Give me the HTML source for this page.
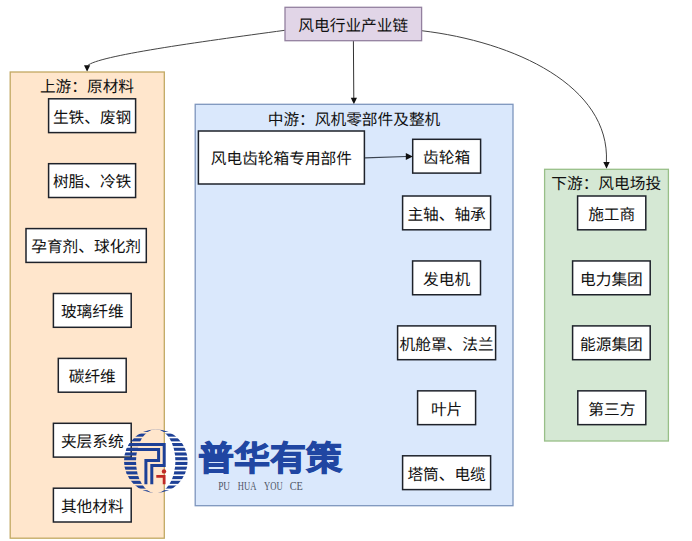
<!DOCTYPE html>
<html lang="zh-CN"><head><meta charset="utf-8">
<style>
html,body{margin:0;padding:0;background:#fff;}
body{width:692px;height:541px;overflow:hidden;font-family:"Liberation Sans",sans-serif;}
svg{display:block;position:absolute;left:0;top:0;}
.lt{position:absolute;left:198px;top:437px;font-size:36px;line-height:1;font-weight:900;color:#2046a2;white-space:nowrap;-webkit-text-stroke:1.2px #2046a2;transform-origin:0 0;transform:translateY(5.5px) scaleY(0.915);}
.t{position:absolute;white-space:nowrap;text-rendering:geometricPrecision;line-height:1;transform:translate(-50%,-50%) translateY(0.15em) scaleY(1);transform-origin:50% 50%;}
text{font-family:"Liberation Sans",sans-serif;}
</style></head><body>
<svg width="692" height="541" viewBox="0 0 692 541">
<path d="M284.8,30.3 C197.1,42.2 97.9,55.8 87.6,65.6" fill="none" stroke="#444" stroke-width="1"/>
<path d="M87.1,71.8 L84,65.2 L90.2,65.2 Z" fill="#111"/>
<path d="M353.4,41 L353.8,98.5" fill="none" stroke="#333" stroke-width="1"/>
<path d="M353.9,104.2 L350.8,97.8 L357,97.8 Z" fill="#111"/>
<path d="M421.5,30.7 C514.8,41.6 610.1,86 606.4,162" fill="none" stroke="#444" stroke-width="1"/>
<path d="M606.5,168.8 L603.3,162 L609.7,162 Z" fill="#111"/>
<rect x="285" y="7.3" width="136.60" height="33.40" fill="#e1d5e7" stroke="#93809f" stroke-width="1.3"/>
<rect x="10.2" y="72" width="154.10" height="466.20" fill="#ffe6cc" stroke="#c2a862" stroke-width="1.3"/>
<rect x="195.2" y="104.3" width="317.80" height="401.40" fill="#dae8fc" stroke="#7d95bd" stroke-width="1.3"/>
<rect x="544.6" y="169.3" width="123.80" height="271.70" fill="#d5e8d4" stroke="#98bf88" stroke-width="1.3"/>
<rect x="48.6" y="98.8" width="87.00" height="33.80" fill="#ffffff" stroke="#1e222a" stroke-width="1.5"/>
<rect x="48.6" y="163.7" width="87.00" height="33.80" fill="#ffffff" stroke="#1e222a" stroke-width="1.5"/>
<rect x="26" y="228.60000000000002" width="120.30" height="33.80" fill="#ffffff" stroke="#1e222a" stroke-width="1.5"/>
<rect x="53.4" y="293.5" width="77.80" height="33.80" fill="#ffffff" stroke="#1e222a" stroke-width="1.5"/>
<rect x="58.3" y="358.40000000000003" width="67.90" height="33.80" fill="#ffffff" stroke="#1e222a" stroke-width="1.5"/>
<rect x="53.4" y="423.3" width="77.80" height="33.80" fill="#ffffff" stroke="#1e222a" stroke-width="1.5"/>
<rect x="53.4" y="488.20000000000005" width="77.80" height="33.80" fill="#ffffff" stroke="#1e222a" stroke-width="1.5"/>
<rect x="198.4" y="131" width="166.00" height="53.00" fill="#ffffff" stroke="#1e222a" stroke-width="1.5"/>
<rect x="412.7" y="139.3" width="67.90" height="33.80" fill="#ffffff" stroke="#1e222a" stroke-width="1.5"/>
<rect x="402.6" y="196.0" width="88.00" height="33.80" fill="#ffffff" stroke="#1e222a" stroke-width="1.5"/>
<rect x="412.6" y="260.95" width="67.90" height="33.80" fill="#ffffff" stroke="#1e222a" stroke-width="1.5"/>
<rect x="397.6" y="325.9" width="98.00" height="33.80" fill="#ffffff" stroke="#1e222a" stroke-width="1.5"/>
<rect x="417.6" y="390.85" width="58.00" height="33.80" fill="#ffffff" stroke="#1e222a" stroke-width="1.5"/>
<rect x="402.6" y="455.8" width="88.00" height="33.80" fill="#ffffff" stroke="#1e222a" stroke-width="1.5"/>
<rect x="577.6" y="196.0" width="68.20" height="33.80" fill="#ffffff" stroke="#1e222a" stroke-width="1.5"/>
<rect x="572.6" y="260.95" width="77.60" height="33.80" fill="#ffffff" stroke="#1e222a" stroke-width="1.5"/>
<rect x="572.6" y="325.9" width="77.60" height="33.80" fill="#ffffff" stroke="#1e222a" stroke-width="1.5"/>
<rect x="577.8" y="390.85" width="68.00" height="33.80" fill="#ffffff" stroke="#1e222a" stroke-width="1.5"/>
<path d="M365,157.8 L406.5,156.5" fill="none" stroke="#3a4350" stroke-width="1.2"/>
<path d="M412.8,156.5 L405.8,153 L405.8,160 Z" fill="#111"/>

<defs>
<clipPath id="cc"><circle cx="155.8" cy="461.2" r="31.8"/></clipPath>
<mask id="mk"><rect x="120" y="425" width="75" height="75" fill="#fff"/><ellipse cx="155.7" cy="461.2" rx="19.7" ry="32" fill="#000"/></mask>
</defs>
<g>
<g clip-path="url(#cc)">
<g mask="url(#mk)" fill="#1d4096">
<rect x="120" y="428.85" width="75" height="3.1"/>
<rect x="120" y="433.57" width="75" height="3.1"/>
<rect x="120" y="438.29" width="75" height="3.1"/>
<rect x="120" y="443.01" width="75" height="3.1"/>
<rect x="120" y="447.73" width="75" height="3.1"/>
<rect x="120" y="452.45" width="75" height="3.1"/>
<rect x="120" y="457.17" width="75" height="3.1"/>
<rect x="120" y="461.89" width="75" height="3.1"/>
<rect x="120" y="466.61" width="75" height="3.1"/>
<rect x="120" y="471.33" width="75" height="3.1"/>
<rect x="120" y="476.05" width="75" height="3.1"/>
<rect x="120" y="480.77" width="75" height="3.1"/>
<rect x="120" y="485.49" width="75" height="3.1"/>
<rect x="120" y="490.21" width="75" height="3.1"/>
</g>
<g fill="none" stroke="#1d4096" stroke-width="3" stroke-linejoin="miter" stroke-linecap="butt">
<path d="M120,444.5 H164.2 V465.6 H151.8 V484.3"/>
<path d="M120,449.5 H158.6 V460.5 H145.9 V484.3"/>
</g>
</g>
<circle cx="164" cy="471.4" r="2.2" fill="#c02a25"/>
<path d="M156.3,476.3 H164.15 V484.3" fill="none" stroke="#c02a25" stroke-width="2.8"/>
</g>
<text x="218.2" y="489.6" textLength="11.8" lengthAdjust="spacingAndGlyphs" style="font-family:&quot;Liberation Serif&quot;,serif" font-size="12.8" fill="#4e5464">PU</text><text x="237.7" y="489.6" textLength="18.7" lengthAdjust="spacingAndGlyphs" style="font-family:&quot;Liberation Serif&quot;,serif" font-size="12.8" fill="#4e5464">HUA</text><text x="264.0" y="489.6" textLength="18.7" lengthAdjust="spacingAndGlyphs" style="font-family:&quot;Liberation Serif&quot;,serif" font-size="12.8" fill="#4e5464">YOU</text><text x="289.7" y="489.6" textLength="13.1" lengthAdjust="spacingAndGlyphs" style="font-family:&quot;Liberation Serif&quot;,serif" font-size="12.8" fill="#4e5464">CE</text>

</svg>
<div class="t" style="left:353.25px;top:23.60px;font-size:15.7px;color:#111;">风电行业产业链</div>
<div class="t" style="left:87.00px;top:84.50px;font-size:15.7px;color:#111;">上游：原材料</div>
<div class="t" style="left:354.00px;top:118.00px;font-size:15.7px;color:#111;">中游：风机零部件及整机</div>
<div class="t" style="left:606.20px;top:182.40px;font-size:15.7px;color:#111;">下游：风电场投</div>
<div class="t" style="left:92.10px;top:115.50px;font-size:15.7px;color:#111;">生铁、废钢</div>
<div class="t" style="left:92.10px;top:180.40px;font-size:15.7px;color:#111;">树脂、冷铁</div>
<div class="t" style="left:86.15px;top:245.30px;font-size:15.7px;color:#111;">孕育剂、球化剂</div>
<div class="t" style="left:92.30px;top:310.20px;font-size:15.7px;color:#111;">玻璃纤维</div>
<div class="t" style="left:92.25px;top:375.10px;font-size:15.7px;color:#111;">碳纤维</div>
<div class="t" style="left:92.30px;top:440.00px;font-size:15.7px;color:#111;">夹层系统</div>
<div class="t" style="left:92.30px;top:504.90px;font-size:15.7px;color:#111;">其他材料</div>
<div class="t" style="left:281.40px;top:157.30px;font-size:15.7px;color:#111;">风电齿轮箱专用部件</div>
<div class="t" style="left:446.65px;top:156.00px;font-size:15.7px;color:#111;">齿轮箱</div>
<div class="t" style="left:446.60px;top:212.70px;font-size:15.7px;color:#111;">主轴、轴承</div>
<div class="t" style="left:446.55px;top:277.65px;font-size:15.7px;color:#111;">发电机</div>
<div class="t" style="left:446.60px;top:342.60px;font-size:15.7px;color:#111;">机舱罩、法兰</div>
<div class="t" style="left:446.60px;top:407.55px;font-size:15.7px;color:#111;">叶片</div>
<div class="t" style="left:446.60px;top:472.50px;font-size:15.7px;color:#111;">塔筒、电缆</div>
<div class="t" style="left:611.70px;top:212.70px;font-size:15.7px;color:#111;">施工商</div>
<div class="t" style="left:611.40px;top:277.65px;font-size:15.7px;color:#111;">电力集团</div>
<div class="t" style="left:611.40px;top:342.60px;font-size:15.7px;color:#111;">能源集团</div>
<div class="t" style="left:611.80px;top:407.55px;font-size:15.7px;color:#111;">第三方</div>
<div class="lt">普华有策</div>

</body></html>
